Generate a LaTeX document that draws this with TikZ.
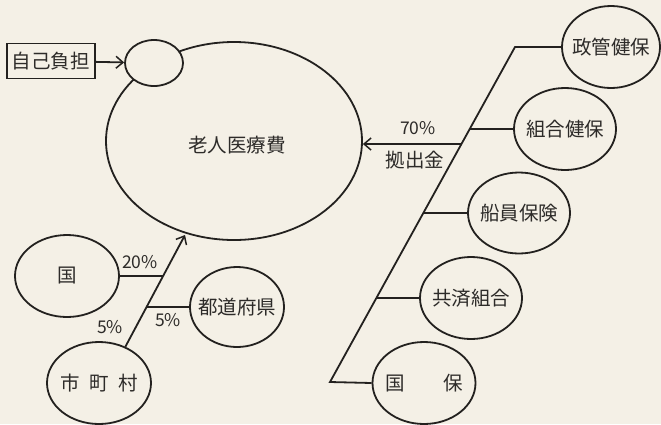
\documentclass[tikz,border=0pt]{standalone}
\usepackage{fontspec}
\setmainfont{Noto Sans CJK JP}
\usetikzlibrary{shapes.geometric,arrows.meta}
\definecolor{bg}{RGB}{244,240,230}
\definecolor{ink}{RGB}{35,33,31}
\definecolor{txt}{RGB}{45,43,41}
\newcommand{\ctxt}[1]{\makebox[0pt][c]{#1}}
\begin{document}
\begin{tikzpicture}[x=1pt,y=-1pt,
  every node/.style={inner sep=0pt,text=txt,font=\fontsize{19.5}{21}\selectfont},
  blob/.style={draw=ink,line width=1.8pt,ellipse,fill=bg},
  lab/.style={font=\fontsize{17.5}{19}\selectfont},
  wire/.style={draw=ink,line width=1.8pt},
  arr/.style={wire,-{Straight Barb[length=7pt,width=12pt,line width=1.5pt]}}]
\fill[bg] (0,0) rectangle (661,424);
\useasboundingbox (0,0) rectangle (661,424);
% main
\node[blob,minimum width=256pt,minimum height=198pt] (main) at (234,141) {};
\node at (237,145) (maintxt) {老人医療費};
\node[blob,minimum width=58pt,minimum height=46pt] (self) at (154,63) {};
\node[draw=ink,line width=1.5pt,rectangle,minimum width=88pt,minimum height=35pt] (box) at (51,61) {自己負担};
\draw[arr] (box) -- (self);
% right side
\node[blob,minimum width=98pt,minimum height=82pt] (g1) at (611,47) {\ctxt{政管健保}};
\node[blob,minimum width=102pt,minimum height=82pt] (g2) at (565,129) {\ctxt{組合健保}};
\node[blob,minimum width=102pt,minimum height=81pt] (g3) at (519,213) {\ctxt{船員保険}};
\node[blob,minimum width=102pt,minimum height=82pt] (g4) at (471,298) {\ctxt{共済組合}};
\node[blob,minimum width=103pt,minimum height=82pt] (g5) at (424,383) {\ctxt{国\hspace{2em}保}};
\coordinate (t1) at (515,47);
\coordinate (t5) at (330,382);
\coordinate (b2) at (470,129);
\coordinate (b3) at (423,213);
\coordinate (b4) at (376,298);
\coordinate (b70) at (461,144);
\draw[wire] (g1.west) -- (t1) -- (t5) -- (g5.west);
\draw[wire] (b2) -- (g2.west);
\draw[wire] (b3) -- (g3.west);
\draw[wire] (b4) -- (g4.west);
\draw[arr] (b70) -- (main.east |- b70);
\node[lab] (p70) at (418,128) {70\%};
\node (kyo) at (415,160) {拠出金};
% left side
\node[blob,minimum width=104pt,minimum height=82pt] (k) at (67,276) {\ctxt{国}};
\node[blob,minimum width=94pt,minimum height=80pt] (pref) at (237,307) {\ctxt{都道府県}};
\node[blob,minimum width=104pt,minimum height=82pt] (city) at (99,383) {\ctxt{市\hspace{0.5em}町\hspace{0.5em}村}};
\coordinate (tip) at (185,235);
\coordinate (bk) at (163,276);
\coordinate (bp) at (147,307);
\draw[arr] (city.54) -- (tip);
\draw[wire] (k.east) -- (bk);
\draw[wire] (bp) -- (pref.west);
\node[lab] (p20) at (140,262) {20\%};
\node[lab] (p5a) at (110,327) {5\%};
\node[lab] (p5b) at (168,320) {5\%};
\end{tikzpicture}
\end{document}
